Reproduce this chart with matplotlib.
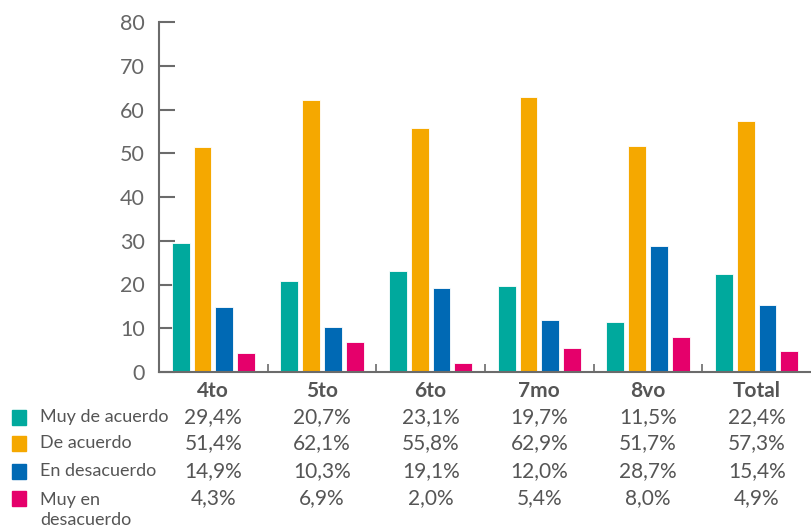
import matplotlib
matplotlib.use("Agg")
import matplotlib.pyplot as plt
import matplotlib.transforms as mtransforms
from matplotlib.patches import Rectangle
import numpy as np

plt.rcParams['font.family'] = ['Lato', 'DejaVu Sans']

categories = ["4to", "5to", "6to", "7mo", "8vo", "Total"]
series_names = ["Muy de acuerdo", "De acuerdo", "En desacuerdo", "Muy en\ndesacuerdo"]
muy_de_acuerdo = [29.4, 20.7, 23.1, 19.7, 11.5, 22.4]
de_acuerdo = [51.4, 62.1, 55.8, 62.9, 51.7, 57.3]
en_desacuerdo = [14.9, 10.3, 19.1, 12.0, 28.7, 15.4]
muy_en_desacuerdo = [4.3, 6.9, 2.0, 5.4, 8.0, 4.9]
colors = ["#00A99D", "#F5A800", "#0069B4", "#E5006B"]
yticks = [0, 10, 20, 30, 40, 50, 60, 70, 80]

series = [muy_de_acuerdo, de_acuerdo, en_desacuerdo, muy_en_desacuerdo]

fig = plt.figure(figsize=(8.11, 5.27), dpi=100)
ax = fig.add_axes([159/811, 1-372/527, 1-159/811, 350/527])

x = np.arange(len(categories))
pitch = 0.2
width = 0.165
for i, (vals, c) in enumerate(zip(series, colors)):
    ax.bar(x + (i - 1.5) * pitch, vals, width=width, color=c,
           edgecolor="white", linewidth=0.6, zorder=2)

grey = "#6b6b6b"
ax.set_xlim(-0.5, len(categories) - 0.5)
ax.set_ylim(0, 80)
ax.set_yticks(yticks)
ax.set_yticklabels([str(v) for v in yticks], fontsize=15.5, color="#666666")
ax.tick_params(axis='y', direction='in', length=11.5, width=1.5, color=grey, pad=10)
ax.set_xticks(np.arange(len(categories) - 1) + 0.5)
ax.set_xticklabels([])
ax.tick_params(axis='x', direction='in', length=5.5, width=1.2, color=grey)
for s in ["top", "right"]:
    ax.spines[s].set_visible(False)
for s in ["left", "bottom"]:
    ax.spines[s].set_color(grey)
    ax.spines[s].set_linewidth(1.5)

trans = mtransforms.blended_transform_factory(ax.transData, fig.transFigure)
text_color = "#555555"

def fy(py):
    return 1 - py / 527

for xi, cat in zip(x, categories):
    fig.text(xi, fy(391), cat, transform=trans, ha="center", va="center",
             fontsize=15, fontweight="bold", color="#555555")

row_y = [417, 443, 471, 498]
for r, (vals, c, name) in enumerate(zip(series, colors, series_names)):
    fig.patches.append(Rectangle((12/811, fy(row_y[r] + 7.5)), 14/811, 15/527,
                                 transform=fig.transFigure, color=c, figure=fig))
    if "\n" in name:
        fig.text(40/811, fy(row_y[r] - 6), name, ha="left", va="top",
                 fontsize=13, color=text_color, linespacing=1.3)
    else:
        fig.text(40/811, fy(row_y[r]), name, ha="left", va="center",
                 fontsize=13, color=text_color)
    for xi, v in zip(x, vals):
        fig.text(xi, fy(row_y[r]), f"{v:.1f}%".replace(".", ","), transform=trans,
                 ha="center", va="center", fontsize=15, color=text_color)

fig.savefig("out.png", dpi=100)
